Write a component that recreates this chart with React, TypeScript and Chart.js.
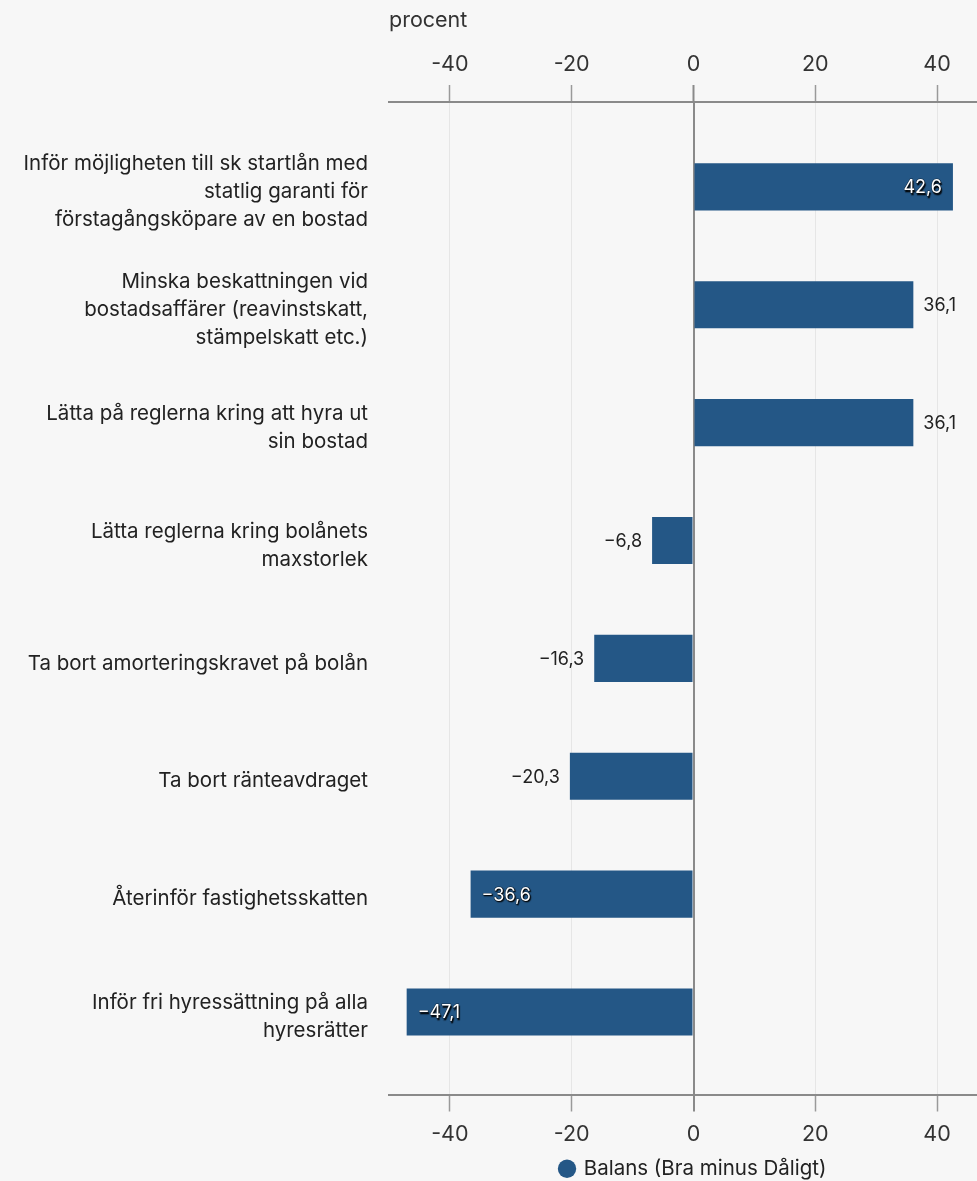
import { useEffect, useRef } from 'react';
import { Chart, registerables } from 'chart.js';

Chart.register(...registerables);

const CATEGORIES: string[][] = [
  ['Inför möjligheten till sk startlån med', 'statlig garanti för', 'förstagångsköpare av en bostad'],
  ['Minska beskattningen vid', 'bostadsaffärer (reavinstskatt,', 'stämpelskatt etc.)'],
  ['Lätta på reglerna kring att hyra ut', 'sin bostad'],
  ['Lätta reglerna kring bolånets', 'maxstorlek'],
  ['Ta bort amorteringskravet på bolån'],
  ['Ta bort ränteavdraget'],
  ['Återinför fastighetsskatten'],
  ['Inför fri hyressättning på alla', 'hyresrätter'],
];
const BALANS: number[] = [42.6, 36.1, 36.1, -6.8, -16.3, -20.3, -36.6, -47.1];
const X_TICKS: number[] = [-40, -20, 0, 20, 40];
const SERIES_NAME = 'Balans (Bra minus Dåligt)';
const AXIS_TITLE = 'procent';

const FONT = 'Inter, "Noto Sans", sans-serif';
const BAR_COLOR = '#245786';
const BG = '#f7f7f7';

const fmt = (v: number) => (v < 0 ? '\u2212' : '') + Math.abs(v).toFixed(1).replace('.', ',');

const valueLabels = {
  id: 'valueLabels',
  afterDatasetsDraw(chart: any) {
    const ctx = chart.ctx as CanvasRenderingContext2D;
    const meta = chart.getDatasetMeta(0);
    ctx.save();
    ctx.font = `18px ${FONT}`;
    ctx.textBaseline = 'middle';
    meta.data.forEach((bar: any, i: number) => {
      const v = BALANS[i];
      const txt = fmt(v);
      const inside = Math.abs(v) > 36.5;
      const pos = v >= 0;
      let x: number;
      const y = bar.y + 1;
      if (inside) {
        ctx.textAlign = pos ? 'right' : 'left';
        x = pos ? bar.x - 11 : bar.x + 11;
        ctx.save();
        ctx.shadowColor = 'rgba(0,0,0,0.9)';
        ctx.shadowOffsetX = 1;
        ctx.shadowOffsetY = 1.5;
        ctx.shadowBlur = 1;
        ctx.lineWidth = 1;
        ctx.strokeStyle = 'rgba(0,0,0,0.5)';
        ctx.strokeText(txt, x, y);
        ctx.fillStyle = '#ffffff';
        ctx.fillText(txt, x, y);
        ctx.restore();
      } else {
        ctx.textAlign = pos ? 'left' : 'right';
        x = pos ? bar.x + 10 : bar.x - 10;
        ctx.fillStyle = '#222222';
        ctx.fillText(txt, x, y);
      }
    });
    ctx.restore();
  },
};

const gridColor = (c: any) => (c.tick && c.tick.value === 0 ? '#8a8a8a' : '#e6e6e6');
const gridWidth = (c: any) => (c.tick && c.tick.value === 0 ? 2 : 1);
const tickColor = (c: any) => (c.tick && c.tick.value === 0 ? '#8a8a8a' : '#9a9a9a');
const tickWidth = (c: any) => (c.tick && c.tick.value === 0 ? 2 : 1.5);

export default function App() {
  const ref = useRef<HTMLCanvasElement | null>(null);

  useEffect(() => {
    if (!ref.current) return;
    const xTicks = (s: any) => {
      s.ticks = X_TICKS.map((v) => ({ value: v }));
    };
    const chart = new Chart(ref.current, {
      type: 'bar',
      data: {
        datasets: [
          {
            label: SERIES_NAME,
            data: BALANS.map((v, i) => ({ x: v, y: i })) as any,
            backgroundColor: BAR_COLOR,
            borderWidth: 0,
            categoryPercentage: 0.8,
            barPercentage: 0.5,
          },
        ],
      },
      options: {
        indexAxis: 'y',
        responsive: false,
        animation: false,
        layout: { padding: { left: 0, right: 12, top: 0, bottom: 0 } },
        plugins: {
          legend: {
            position: 'bottom',
            fullSize: false,
            labels: {
              usePointStyle: true,
              pointStyle: 'circle',
              boxWidth: 13,
              boxHeight: 13,
              padding: 2,
              color: '#222222',
              font: { family: FONT, size: 20.5 },
            },
          },
          tooltip: { enabled: false },
        },
        scales: {
          x: {
            type: 'linear',
            position: 'bottom',
            min: -50,
            max: 50,
            afterBuildTicks: xTicks,
            afterFit: (s: any) => {
              s.height = 62;
            },
            grid: {
              color: gridColor,
              lineWidth: gridWidth,
              tickColor: tickColor,
              tickWidth: tickWidth,
              tickLength: 17,
            },
            border: { color: '#8a8a8a', width: 2 },
            ticks: { padding: 10, color: '#333333', font: { family: FONT, size: 21.5 } },
          },
          x2: {
            type: 'linear',
            axis: 'x',
            position: 'top',
            min: -50,
            max: 50,
            afterBuildTicks: xTicks,
            afterFit: (s: any) => {
              s.height = 102;
            },
            grid: {
              drawOnChartArea: false,
              tickColor: tickColor,
              tickWidth: tickWidth,
              tickLength: 17,
            },
            border: { color: '#8a8a8a', width: 2 },
            ticks: { padding: 8, color: '#333333', font: { family: FONT, size: 21.5 } },
            title: {
              display: true,
              text: AXIS_TITLE,
              align: 'start',
              color: '#333333',
              padding: { top: 8, bottom: 0 },
              font: { family: FONT, size: 21.5 },
            },
          },
          y: {
            type: 'linear',
            reverse: true,
            offset: false,
            min: -0.72,
            max: 7.7,
            afterBuildTicks: (s: any) => {
              s.ticks = CATEGORIES.map((_, i) => ({ value: i }));
            },
            afterFit: (s: any) => {
              s.width = 389;
            },
            grid: { display: false, drawTicks: false },
            border: { display: false },
            ticks: {
              padding: 21,
              labelOffset: 5,
              color: '#222222',
              font: { family: FONT, size: 20.5, lineHeight: 1.36 },
              callback: (v: any) => CATEGORIES[v as number] ?? '',
            },
          },
        } as any,
      },
      plugins: [valueLabels],
    });
    return () => chart.destroy();
  }, []);

  return (
    <div
      style={{
        position: 'absolute',
        left: 0,
        top: 0,
        width: 977,
        height: 1181,
        overflow: 'hidden',
        background: BG,
      }}
    >
      <canvas ref={ref} width={1010} height={1189} style={{ width: 1010, height: 1189, display: 'block' }} />
    </div>
  );
}
